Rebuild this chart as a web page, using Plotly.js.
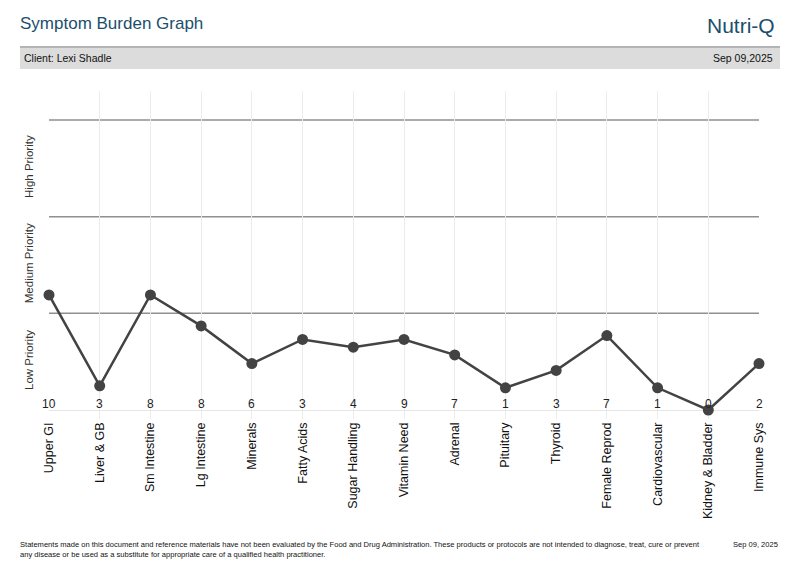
<!DOCTYPE html>
<html>
<head>
<meta charset="utf-8">
<script src="https://cdn.plot.ly/plotly-3.0.1.min.js"></script>
<style>
html,body{margin:0;padding:0;background:#fff;}
#chart{width:800px;height:578px;}
</style>
</head>
<body>
<div id="chart"></div>
<script>
var categories = ["Upper GI","Liver & GB","Sm Intestine","Lg Intestine","Minerals","Fatty Acids","Sugar Handling","Vitamin Need","Adrenal","Pituitary","Thyroid","Female Reprod","Cardiovascular","Kidney & Bladder","Immune Sys"];
var burdenLevel = [1.19,0.25,1.19,0.87,0.48,0.73,0.65,0.73,0.57,0.23,0.41,0.77,0.23,0.0,0.48];
var scores = [10,3,8,8,6,3,4,9,7,1,3,7,1,0,2];
var priorityLabels = ["Low Priority","Medium Priority","High Priority"];
var priorityCenters = [0.5,1.5,2.5];
var priorityBounds = [1,2,3];

var FONT = "Liberation Sans, Arial, Helvetica, sans-serif";
var L = 49, R = 759, T = 91, B = 419, W = 800, H = 578;
function px(x){ return (x - L) / (R - L); }
function py(y){ return (B - y) / (B - T); }

var trace = {
  x: categories,
  y: burdenLevel,
  type: "scatter",
  mode: "lines+markers",
  line: {color: "#434343", width: 2.5},
  marker: {color: "#434343", size: 11},
  cliponaxis: false,
  hoverinfo: "skip"
};

var shapes = [];
priorityBounds.forEach(function(b){
  shapes.push({type:"line", xref:"x", yref:"y", x0:0, x1:categories.length-1, y0:b, y1:b,
    line:{color:"#8f8f8f", width:1.5}, layer:"below"});
});
// header bar
shapes.push({type:"rect", xref:"paper", yref:"paper", x0:px(20), x1:px(780), y0:py(69), y1:py(47),
  fillcolor:"#dcdcdc", line:{width:0}});
shapes.push({type:"line", xref:"paper", yref:"paper", x0:px(20), x1:px(780), y0:py(47), y1:py(47),
  line:{color:"#b4b4b4", width:2}});

var annotations = [];
scores.forEach(function(s, i){
  annotations.push({x: categories[i], y: 0, xref:"x", yref:"y", text: String(s), showarrow:false,
    yanchor:"bottom", yshift:-3, font:{family:FONT, size:12, color:"#222"}});
});
annotations.push({xref:"paper", yref:"paper", x:px(18), y:py(24), xanchor:"left", yanchor:"middle",
  text:"Symptom Burden Graph", showarrow:false, font:{family:FONT, size:17, color:"#1b4f6d"}});
annotations.push({xref:"paper", yref:"paper", x:px(777), y:py(25), xanchor:"right", yanchor:"middle",
  text:"Nutri-Q", showarrow:false, font:{family:FONT, size:21, color:"#1b4f6d"}});
annotations.push({xref:"paper", yref:"paper", x:px(22), y:py(57.5), xanchor:"left", yanchor:"middle",
  text:"Client: Lexi Shadle", showarrow:false, font:{family:FONT, size:10.5, color:"#111"}});
annotations.push({xref:"paper", yref:"paper", x:px(775), y:py(57.5), xanchor:"right", yanchor:"middle",
  text:"Sep 09,2025", showarrow:false, font:{family:FONT, size:10.5, color:"#111"}});
annotations.push({xref:"paper", yref:"paper", x:px(18), y:py(549), xanchor:"left", yanchor:"middle", align:"left",
  text:"Statements made on this document and reference materials have not been evaluated by the Food and Drug Administration. These products or protocols are not intended to diagnose, treat, cure or prevent<br>any disease or be used as a substitute for appropriate care of a qualified health practitioner.",
  showarrow:false, font:{family:FONT, size:7.55, color:"#111"}});
annotations.push({xref:"paper", yref:"paper", x:px(780), y:py(544.5), xanchor:"right", yanchor:"middle",
  text:"Sep 09, 2025", showarrow:false, font:{family:FONT, size:7.55, color:"#111"}});

var layout = {
  width: W, height: H,
  margin: {l: L, r: W - R, t: T, b: H - B, pad: 0},
  paper_bgcolor: "#fff", plot_bgcolor: "#fff",
  showlegend: false,
  xaxis: {
    type: "category",
    range: [0, categories.length - 1],
    showgrid: true, gridcolor: "#ececec", gridwidth: 1,
    showline: false, zeroline: false, ticks: "",
    tickangle: -90,
    tickfont: {family: FONT, size: 12.5, color: "#111"},
    fixedrange: true
  },
  yaxis: {
    range: [-0.093, 3.3],
    showgrid: false,
    zeroline: true, zerolinecolor: "#e6e6e6", zerolinewidth: 1,
    showline: false, ticks: "",
    tickmode: "array", tickvals: priorityCenters, ticktext: priorityLabels,
    tickangle: -90,
    ticklabelstandoff: 13,
    tickfont: {family: FONT, size: 11.5, color: "#333"},
    fixedrange: true
  },
  shapes: shapes,
  annotations: annotations
};

Plotly.newPlot("chart", [trace], layout, {displayModeBar: false, staticPlot: true});
</script>
</body>
</html>
